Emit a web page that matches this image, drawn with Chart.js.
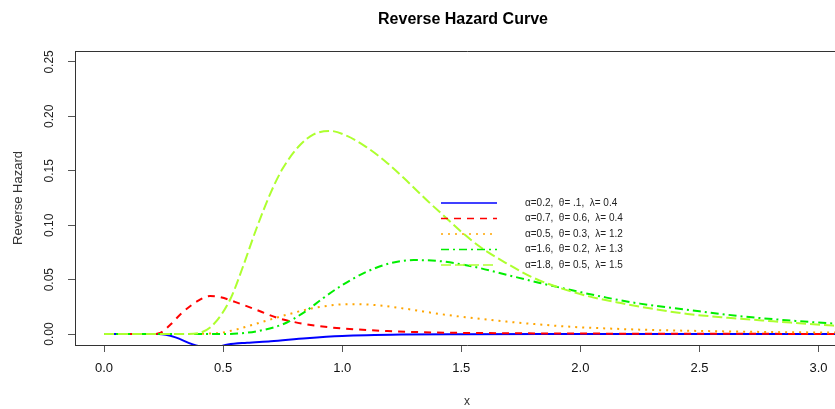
<!DOCTYPE html>
<html>
<head>
<meta charset="utf-8">
<script src="https://cdn.jsdelivr.net/npm/chart.js@4.4.1/dist/chart.umd.min.js"></script>
<style>
  html, body { margin: 0; padding: 0; background: #fff; overflow: hidden; width: 835px; height: 409px; }
  #wrap { position: absolute; left: 0; top: 0; width: 870px; height: 409px; }
</style>
</head>
<body>
<div id="wrap"><canvas id="c" width="870" height="409"></canvas></div>
<script>
// ---- data ----
const chartTitle = "Reverse Hazard Curve";
const xTitle = "x";
const yTitle = "Reverse Hazard";
const xTicks = [0, 0.5, 1.0, 1.5, 2.0, 2.5, 3.0];
const yTicks = [0, 0.05, 0.10, 0.15, 0.20, 0.25];
const seriesLabels = [
  "\u03b1=0.2,  \u03b8= .1,  \u03bb= 0.4",
  "\u03b1=0.7,  \u03b8= 0.6,  \u03bb= 0.4",
  "\u03b1=0.5,  \u03b8= 0.3,  \u03bb= 1.2",
  "\u03b1=1.6,  \u03b8= 0.2,  \u03bb= 1.3",
  "\u03b1=1.8,  \u03b8= 0.5,  \u03bb= 1.5"
];

const xBlue = [0, 0.23, 0.3, 0.37, 0.45, 0.52, 0.6, 0.7, 0.85, 1.0, 1.25, 1.5, 2.0, 2.5, 3.0, 3.2];
const yBlue = [0, 0, -0.003, -0.0092, -0.013, -0.0095, -0.0079, -0.0065, -0.0037, -0.0017, -0.0004, -0.0001, 0, 0, 0, 0];

const xRed = [0, 0.2, 0.235, 0.28, 0.32, 0.39, 0.445, 0.487, 0.57, 0.655, 0.727, 0.836, 0.95, 1.06, 1.19, 1.33, 1.47, 1.7, 2.0, 2.5, 3.0, 3.2];
const yRed = [0, 0, 0.001, 0.009, 0.018, 0.030, 0.035, 0.034, 0.028, 0.021, 0.015, 0.0095, 0.0062, 0.0043, 0.0028, 0.0018, 0.0012, 0.0008, 0.0005, 0.0003, 0.0002, 0.0002];

const xOrange = [0, 0.35, 0.42, 0.49, 0.56, 0.63, 0.7, 0.77, 0.87, 0.98, 1.05, 1.15, 1.26, 1.41, 1.52, 1.69, 1.78, 1.97, 2.11, 2.25, 2.5, 2.8, 3.2];
const yOrange = [0, 0, 0.0003, 0.0012, 0.0045, 0.009, 0.0135, 0.018, 0.0235, 0.027, 0.0275, 0.0265, 0.0235, 0.0185, 0.0155, 0.0115, 0.0097, 0.0066, 0.0052, 0.0041, 0.0029, 0.0019, 0.0012];

const xGreen = [0, 0.45, 0.56, 0.65, 0.75, 0.84, 0.92, 1.0, 1.1, 1.2, 1.3, 1.41, 1.55, 1.69, 1.83, 1.97, 2.11, 2.25, 2.5, 2.67, 2.88, 3.06, 3.2];
const yGreen = [0, 0, 0.0005, 0.003, 0.009, 0.02, 0.033, 0.045, 0.057, 0.065, 0.068, 0.067, 0.062, 0.0545, 0.047, 0.040, 0.0335, 0.028, 0.021, 0.0165, 0.0125, 0.0098, 0.0085];

const xYellow = [0, 0.35, 0.40, 0.46, 0.53, 0.58, 0.64, 0.70, 0.75, 0.82, 0.88, 0.95, 1.02, 1.10, 1.19, 1.27, 1.36, 1.44, 1.50, 1.58, 1.69, 1.80, 1.92, 2.03, 2.17, 2.31, 2.45, 2.62, 2.81, 3.06, 3.2];
const yYellow = [0, 0, 0.001, 0.009, 0.032, 0.060, 0.097, 0.130, 0.152, 0.173, 0.1835, 0.1866, 0.182, 0.172, 0.157, 0.141, 0.122, 0.106, 0.094, 0.080, 0.065, 0.052, 0.042, 0.035, 0.0285, 0.023, 0.0185, 0.015, 0.0118, 0.0078, 0.0066];

// ---- chart ----
const pts = (xs, ys) => xs.map((x, i) => ({ x: x, y: ys[i] }));
const styles = [
  { color: "#0000FF", dash: [] },
  { color: "#FF0000", dash: [7, 6] },
  { color: "#FFA500", dash: [2, 5] },
  { color: "#00EE00", dash: [8, 4, 2, 4] },
  { color: "#ADFF2F", dash: [10, 4] }
];
const allX = [xBlue, xRed, xOrange, xGreen, xYellow];
const allY = [yBlue, yRed, yOrange, yGreen, yYellow];

const datasets = allX.map((xs, i) => ({
  label: seriesLabels[i],
  data: pts(xs, allY[i]),
  borderColor: styles[i].color,
  borderDash: styles[i].dash,
  borderWidth: 2,
  pointRadius: 0,
  fill: false,
  cubicInterpolationMode: "monotone",
  borderCapStyle: "butt",
  order: 5 - i
}));

const decor = {
  id: "decor",
  afterDraw(chart) {
    const ctx = chart.ctx;
    const a = chart.chartArea;
    const ys = chart.scales.y;
    ctx.save();
    // box top + right
    ctx.strokeStyle = "#333";
    ctx.lineWidth = 1;
    ctx.beginPath();
    ctx.moveTo(a.left, a.top + 0.5);
    ctx.lineTo(a.right + 0.5, a.top + 0.5);
    ctx.lineTo(a.right + 0.5, a.bottom);
    ctx.stroke();
    // y tick labels (rotated, as in R)
    ctx.fillStyle = "#222";
    ctx.font = "12px 'Liberation Sans', Arial, sans-serif";
    ctx.textAlign = "center";
    ctx.textBaseline = "middle";
    yTicks.forEach(v => {
      const py = ys.getPixelForValue(v);
      ctx.save();
      ctx.translate(50, py);
      ctx.rotate(-Math.PI / 2);
      ctx.fillText(v.toFixed(2), 0, 0);
      ctx.restore();
    });
    // y title
    ctx.save();
    ctx.font = "13px 'Liberation Sans', Arial, sans-serif";
    ctx.fillStyle = "#333";
    ctx.translate(18, (a.top + a.bottom) / 2);
    ctx.rotate(-Math.PI / 2);
    ctx.fillText(yTitle, 0, 0);
    ctx.restore();
    // main title
    ctx.font = "bold 16px 'Liberation Sans', Arial, sans-serif";
    ctx.fillStyle = "#000";
    ctx.fillText(chartTitle, 463, 20);
    // legend
    ctx.font = "10px 'Liberation Sans', Arial, sans-serif";
    ctx.textAlign = "left";
    chart.data.datasets.forEach((ds, i) => {
      const ry = 203 + i * 15.5;
      ctx.strokeStyle = ds.borderColor;
      ctx.lineWidth = 1.5;
      ctx.setLineDash(ds.borderDash);
      ctx.beginPath();
      ctx.moveTo(441, ry);
      ctx.lineTo(497, ry);
      ctx.stroke();
      ctx.setLineDash([]);
      ctx.fillStyle = "#222";
      ctx.fillText(ds.label, 525, ry);
    });
    ctx.restore();
  }
};

new Chart(document.getElementById("c"), {
  type: "line",
  data: { datasets: datasets },
  options: {
    responsive: false,
    animation: false,
    layout: { padding: { left: 68, top: 51, right: 11, bottom: 0 } },
    plugins: { legend: { display: false }, title: { display: false }, tooltip: { enabled: false } },
    scales: {
      x: {
        type: "linear",
        min: -0.122,
        max: 3.17,
        afterBuildTicks: (s) => { s.ticks = xTicks.map(v => ({ value: v })); },
        grid: { drawOnChartArea: false, drawTicks: true, tickLength: 7, tickColor: "#555" },
        border: { display: true, color: "#333", width: 1 },
        ticks: {
          autoSkip: false, maxRotation: 0, minRotation: 0, padding: 9,
          color: "#111",
          font: { family: "'Liberation Sans Narrow', 'Liberation Sans', Arial", size: 13 },
          callback: (v) => Number(v).toFixed(1)
        },
        title: {
          display: true, text: xTitle, color: "#333",
          font: { family: "'Liberation Sans Narrow', 'Liberation Sans', Arial", size: 12 },
          padding: { top: 9, bottom: 0 }
        }
      },
      y: {
        type: "linear",
        min: -0.01,
        max: 0.26,
        afterBuildTicks: (s) => { s.ticks = yTicks.map(v => ({ value: v })); },
        grid: { drawOnChartArea: false, drawTicks: true, tickLength: 7, tickColor: "#555" },
        border: { display: true, color: "#333", width: 1 },
        ticks: { display: false }
      }
    }
  },
  plugins: [decor]
});
</script>
</body>
</html>
